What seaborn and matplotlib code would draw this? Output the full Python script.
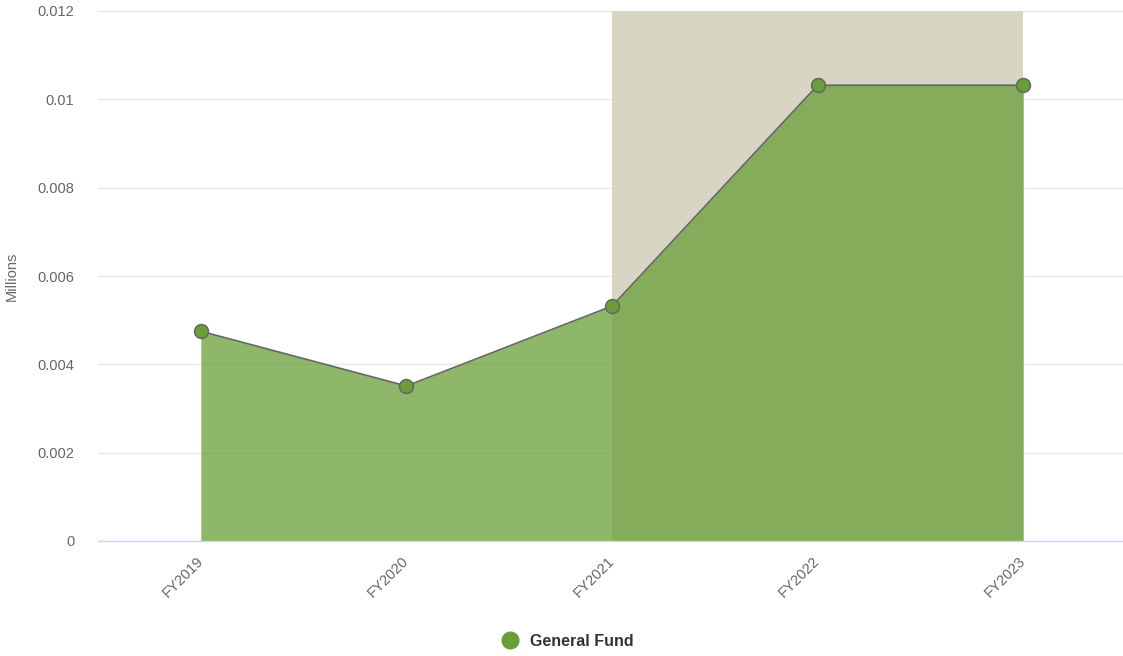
import matplotlib
matplotlib.use("Agg")
import matplotlib.pyplot as plt
import matplotlib.transforms as mtransforms
import seaborn as sns
import pandas as pd
from matplotlib.lines import Line2D

# data
years = ["FY2019", "FY2020", "FY2021", "FY2022", "FY2023"]
general_fund = [0.00475, 0.00351, 0.00532, 0.01032, 0.01032]
band_start = "FY2021"
band_end = "FY2023"

GREEN = "#689f38"

sns.set_theme(style="white")
plt.rcParams['font.family'] = ['Liberation Sans', 'DejaVu Sans']

df = pd.DataFrame({"year": years, "value": general_fund})
df["pos"] = range(len(years))

fig = plt.figure(figsize=(11.23, 6.56), dpi=100)
ax = fig.add_axes([98 / 1123, 115 / 656, 1 - 98 / 1123, 530 / 656])

# shaded (projected) band
ax.axvspan(years.index(band_start), years.index(band_end), ymin=0, ymax=1,
           color="#d8d5c5", lw=0, zorder=1)

ax.fill_between(df["pos"], df["value"], 0, color=GREEN, alpha=0.75, lw=0, zorder=2)
sns.lineplot(data=df, x="pos", y="value", ax=ax, color="#666666", lw=1.2,
             marker="o", markersize=10, markerfacecolor=GREEN,
             markeredgecolor="#666666", markeredgewidth=1.1, zorder=4)

ax.set_xlim(-0.5, 4.485)
ax.set_ylim(0, 0.012)
ax.set_yticks([0, 0.002, 0.004, 0.006, 0.008, 0.01, 0.012])
ax.set_yticklabels(["0", "0.002", "0.004", "0.006", "0.008", "0.01", "0.012"])
ax.set_xticks(df["pos"])
ax.set_xticklabels(years, rotation=45, ha="right", va="top", rotation_mode="anchor")
ax.tick_params(axis="both", length=0, labelsize=10.5, colors="#666666")
ax.tick_params(axis="x", pad=9)
ax.tick_params(axis="y", pad=17)
shift = mtransforms.ScaledTranslation(-5 / 100, 0, fig.dpi_scale_trans)
for lbl in ax.get_xticklabels():
    lbl.set_transform(lbl.get_transform() + shift)
for lbl in ax.get_yticklabels():
    lbl.set_horizontalalignment("right")

ax.grid(axis="y", color="#e6e6e6", lw=1)
ax.set_axisbelow(True)
for s in ["top", "right", "left"]:
    ax.spines[s].set_visible(False)
ax.spines["bottom"].set_color("#ccd6eb")
ax.spines["bottom"].set_linewidth(1)

ax.set_xlabel("")
ax.set_ylabel("Millions", fontsize=10.5, color="#666666")
ax.yaxis.set_label_coords(-0.077, 0.5)

handle = Line2D([], [], marker="o", color="none", markerfacecolor=GREEN,
                markeredgecolor=GREEN, markersize=12)
fig.legend([handle], ["General Fund"], loc="center", bbox_to_anchor=(0.502, 0.022),
           frameon=False, prop={"weight": "bold", "size": 11.5}, labelcolor="#333333",
           handletextpad=0.25)

fig.savefig("out.png", dpi=100)
